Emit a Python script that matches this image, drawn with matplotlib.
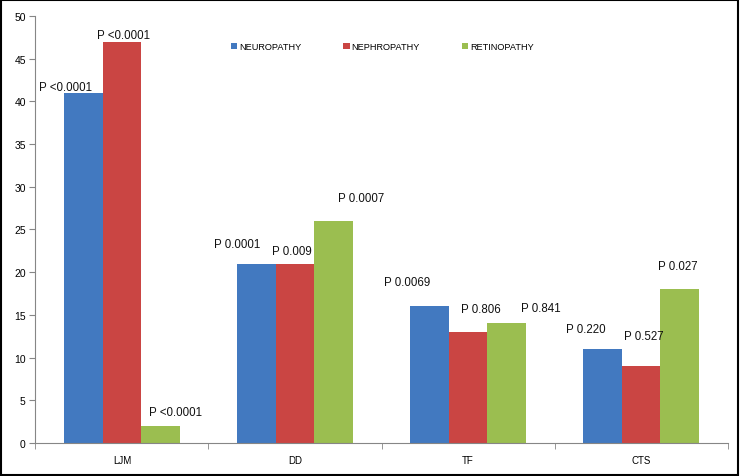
import matplotlib.pyplot as plt
import numpy as np
from matplotlib.patches import Rectangle

# categories and series
categories = ['LJM', 'DD', 'TF', 'CTS']
series = ['NEUROPATHY', 'NEPHROPATHY', 'RETINOPATHY']
neuropathy = [41, 21, 16, 11]
nephropathy = [47, 21, 13, 9]
retinopathy = [2, 26, 14, 18]

# p-value labels per series
p_neuro = ['P <0.0001', 'P 0.0001', 'P 0.0069', 'P 0.220']
p_nephro = ['P <0.0001', 'P 0.009', 'P 0.806', 'P 0.527']
p_retino = ['P <0.0001', 'P 0.0007', 'P 0.841', 'P 0.027']

colors = ['#4279C0', '#CA4543', '#9BBE50']

# label placement relative to bar top (pixels): dx from bar center, dy to text centre
offsets = [
    [(-18.5, 6.5), (-19, 21), (-22, 25), (-16.5, 21)],
    [(1.5, 7.5), (-3, 14), (13, 24), (3, 31)],
    [(15, 15), (27.5, 24), (34, 16), (-2, 24)],
]

plt.rcParams['font.family'] = ['Liberation Sans', 'DejaVu Sans']

fig = plt.figure(figsize=(7.41, 4.77), dpi=100)
ax = fig.add_axes([0.0479, 0.0692, 0.9339, 0.8952])

x = np.arange(len(categories))
width = 0.2225
values = [neuropathy, nephropathy, retinopathy]
labels = [p_neuro, p_nephro, p_retino]

for i, (vals, name) in enumerate(zip(values, series)):
    pos = x + (i - 1) * width
    ax.bar(pos, vals, width, color=colors[i], label=name)
    for j in range(len(categories)):
        dx, dy = offsets[i][j]
        ax.annotate(labels[i][j], (pos[j], vals[j]), xytext=(dx, dy - 4),
                    textcoords='offset pixels', ha='center', va='baseline',
                    fontsize=8.3, color='#111111')

ax.set_xlim(-0.5, 3.5)
ax.set_ylim(0, 50)
ax.set_yticks(np.arange(0, 51, 5))
ax.set_xticks(x)
ax.set_xticklabels(categories)
ax.set_xticks(np.arange(-0.5, 3.6, 1), minor=True)
ax.tick_params(axis='x', which='major', length=0, pad=9, labelsize=7)
ax.tick_params(axis='x', which='minor', length=4, color='#868686')
ax.tick_params(axis='y', length=4, color='#868686', labelsize=7.5, pad=3)

for s in ['top', 'right']:
    ax.spines[s].set_visible(False)
for s in ['left', 'bottom']:
    ax.spines[s].set_color('#868686')

ax.legend(loc='upper left', bbox_to_anchor=(0.27, 0.958), ncol=3, frameon=False,
          fontsize=6.6, handlelength=0.7, handleheight=0.7, handletextpad=0.2,
          columnspacing=4.6)

# black frame around the picture
fig.patches.append(Rectangle((0.002, 0.003), 0.994, 0.994, transform=fig.transFigure,
                             fill=False, edgecolor='black', linewidth=1.5))

fig.savefig('out.png', dpi=100)
